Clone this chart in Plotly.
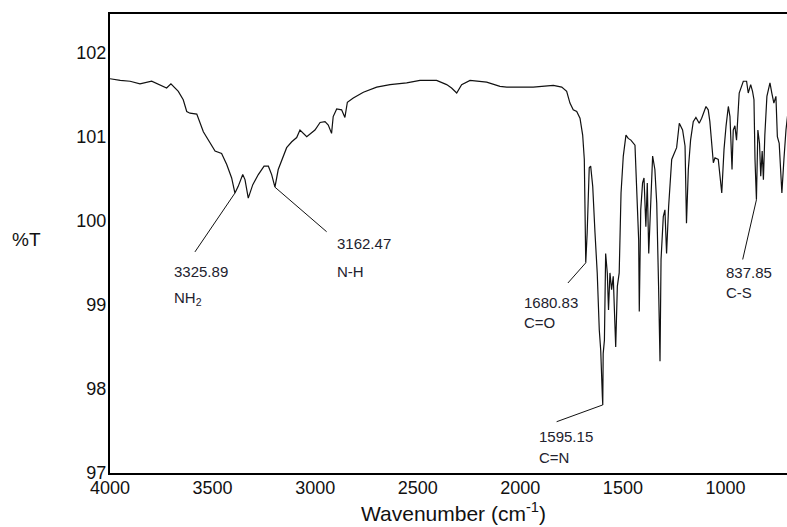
import plotly.graph_objects as go

wavenumber = [4000, 3950, 3902, 3854, 3797, 3756, 3724, 3703, 3667, 3643, 3626, 3610, 3577, 3545, 3513,
              3488, 3456, 3431, 3407, 3391, 3375, 3353, 3342, 3326, 3304, 3277, 3249, 3228, 3212, 3196,
              3180, 3155, 3139, 3114, 3090, 3074, 3041, 3001, 2976, 2952, 2936, 2920, 2912, 2895, 2871,
              2855, 2843, 2814, 2765, 2700, 2635, 2554, 2489, 2408, 2383, 2359, 2335, 2310, 2286, 2245,
              2164, 2099, 2066, 1937, 1839, 1798, 1774, 1758, 1742, 1725, 1709, 1696, 1688, 1685, 1681,
              1674, 1664, 1657, 1647, 1636, 1625, 1615, 1608, 1600, 1598, 1596, 1590, 1584, 1576, 1570,
              1563, 1555, 1547, 1535, 1527, 1518, 1509, 1498, 1485, 1474, 1461, 1441, 1433, 1423, 1420,
              1413, 1404, 1397, 1388, 1381, 1374, 1365, 1355, 1344, 1335, 1326, 1319, 1314, 1303, 1295,
              1287, 1277, 1262, 1250, 1238, 1225, 1209, 1197, 1190, 1181, 1170, 1157, 1144, 1128, 1116,
              1095, 1084, 1076, 1067, 1059, 1051, 1035, 1018, 1007, 997, 986, 978, 968, 962, 954,
              946, 933, 913, 897, 889, 877, 868, 861, 856, 849, 842, 834, 828, 821, 815,
              808, 798, 783, 774, 764, 754, 747, 738, 731, 725, 715, 705, 695]
transmittance = [101.69, 101.67, 101.66, 101.63, 101.66, 101.62, 101.58, 101.63, 101.54, 101.44, 101.30, 101.28, 101.27, 101.06, 100.94,
                 100.83, 100.80, 100.67, 100.51, 100.33, 100.41, 100.55, 100.49, 100.27, 100.43, 100.55, 100.65, 100.65, 100.55, 100.40,
                 100.61, 100.77, 100.87, 100.94, 100.99, 101.08, 101.00, 101.08, 101.17, 101.18, 101.14, 101.04, 101.24, 101.33, 101.32,
                 101.23, 101.41, 101.46, 101.53, 101.59, 101.62, 101.64, 101.67, 101.67, 101.64, 101.62, 101.58, 101.52, 101.62, 101.67,
                 101.65, 101.60, 101.59, 101.59, 101.61, 101.59, 101.54, 101.40, 101.32, 101.30, 101.22, 101.02, 100.73, 99.86, 99.50,
                 99.86, 100.63, 100.65, 100.41, 99.86, 99.38, 98.70, 98.46, 97.91, 97.81, 98.42, 98.58, 99.61, 99.38, 98.94,
                 99.38, 99.18, 99.34, 98.50, 99.22, 99.38, 100.33, 100.77, 101.02, 100.98, 100.96, 100.90, 100.33, 99.77, 98.92,
                 100.13, 100.45, 100.51, 99.93, 100.45, 99.61, 100.25, 100.77, 100.61, 100.21, 99.22, 98.33, 99.54, 100.05, 100.13,
                 99.61, 100.17, 100.73, 100.80, 100.87, 101.16, 101.08, 100.89, 99.97, 100.61, 100.96, 101.18, 101.23, 101.16, 101.22,
                 101.36, 101.32, 101.18, 100.85, 100.69, 100.75, 100.73, 100.33, 100.85, 101.13, 101.36, 101.24, 100.61, 101.08, 101.13,
                 100.96, 101.52, 101.66, 101.66, 101.52, 101.62, 101.54, 101.44, 100.73, 100.25, 101.08, 100.92, 100.53, 100.83, 100.49,
                 101.02, 101.48, 101.64, 101.52, 101.40, 101.48, 101.00, 100.92, 100.53, 100.33, 100.73, 101.08, 101.30]

x_ticks = [4000, 3500, 3000, 2500, 2000, 1500, 1000]
y_ticks = [97, 98, 99, 100, 101, 102]

# peak labels: value text, group text, peak point, leader end, label anchor
peak_values = ["3325.89", "3162.47", "1680.83", "1595.15", "837.85"]
peak_groups = ["NH<sub>2</sub>", "N-H", "C=O", "C=N", "C-S"]
peak_points = [(3391, 100.33), (3196, 100.40), (1681, 99.50), (1598, 97.81), (849, 100.25)]
leader_ends = [(3586, 99.63), (2944, 99.87), (1768, 99.26), (1823, 97.61), (916, 99.54)]
label_pos = [(3700, 99.40, 99.08), (2903, 99.73, 99.40), (1993, 99.03, 98.79),
             (1920, 97.43, 97.19), (1007, 99.39, 99.15)]

FONT = "Liberation Sans, Arial, sans-serif"

fig = go.Figure()
fig.add_trace(go.Scatter(x=wavenumber, y=transmittance, mode="lines",
                         line=dict(color="#111111", width=1.2), hoverinfo="skip", showlegend=False))

for (px, py), (ex, ey) in zip(peak_points, leader_ends):
    fig.add_trace(go.Scatter(x=[px, ex], y=[py, ey], mode="lines",
                             line=dict(color="#111111", width=1), hoverinfo="skip", showlegend=False))

anns = []
txt_font = dict(family=FONT, size=15, color="#22222e")
for val, grp, (lx, ly1, ly2) in zip(peak_values, peak_groups, label_pos):
    anns.append(dict(x=lx, y=ly1, xref="x", yref="y", text=val, showarrow=False,
                     xanchor="left", yanchor="middle", font=txt_font))
    anns.append(dict(x=lx, y=ly2, xref="x", yref="y", text=grp, showarrow=False,
                     xanchor="left", yanchor="middle", font=txt_font))

anns.append(dict(x=(10 - 110) / 677, y=(473 - 240) / 459, xref="paper", yref="paper",
                 text="%T", showarrow=False, xanchor="left", yanchor="middle",
                 font=dict(family=FONT, size=19, color="#111111")))

anns.append(dict(x=(453 - 110) / 677, y=-(512 - 473) / 459, xref="paper", yref="paper",
                 text="Wavenumber (cm<sup>-1</sup>)", showarrow=False,
                 xanchor="center", yanchor="middle",
                 font=dict(family=FONT, size=21, color="#111111")))

fig.update_layout(
    width=787, height=527,
    margin=dict(l=110, r=0, t=14, b=54),
    paper_bgcolor="white", plot_bgcolor="white",
    annotations=anns,
    xaxis=dict(range=[4000, 700], tickvals=x_ticks, ticktext=[str(v) for v in x_ticks],
               showgrid=False, zeroline=False, showline=True, linecolor="black", linewidth=2,
               mirror=True, ticks="", ticklabelstandoff=-3,
               tickfont=dict(family=FONT, size=18, color="#111111")),
    yaxis=dict(range=[97, 102.46], tickvals=y_ticks, ticktext=[str(v) for v in y_ticks],
               showgrid=False, zeroline=False, showline=True, linecolor="black", linewidth=2,
               mirror=False, ticks="", ticklabelstandoff=-2,
               tickfont=dict(family=FONT, size=18, color="#111111")),
)

fig.write_html("out.html")
